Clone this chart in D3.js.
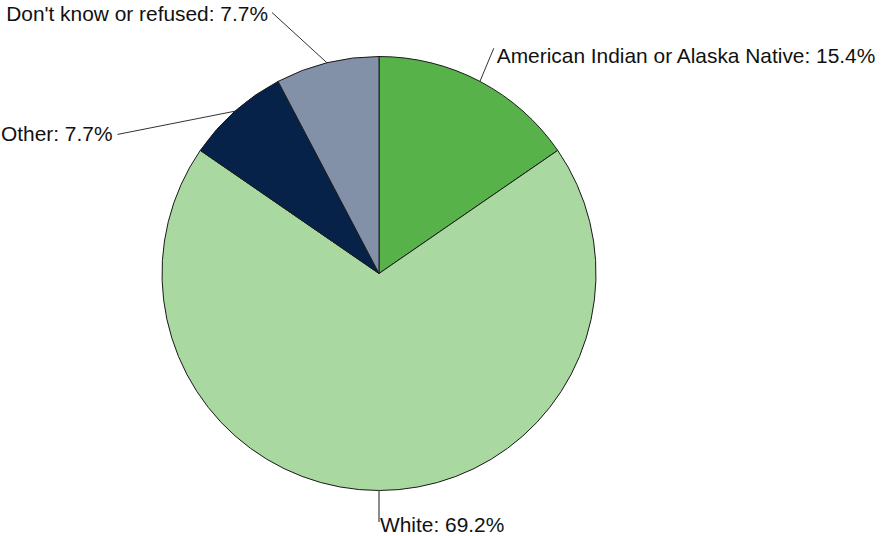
<!DOCTYPE html>
<html><head><meta charset="utf-8">
<script src="https://cdn.jsdelivr.net/npm/d3@7"></script>
<style>body{margin:0;background:#fff}svg{display:block}text{font-family:"Liberation Sans",Arial,Helvetica,sans-serif}</style>
</head><body>
<svg id="c" width="882" height="536"></svg>
<script>
const categories = ["American Indian or Alaska Native", "White", "Other", "Don't know or refused"];
const values = [15.4, 69.2, 7.7, 7.7];
const colors = ["#57b349", "#a9d8a1", "#062249", "#8291a8"];

// layout (label leader end points as angle in degrees / radius factor, text anchor)
const leaderEnd = [
  {ang: 27, rf: 1.165, anchor: "start", dx: 3, dy: 15},
  {ang: 180, rf: 1.145, anchor: "start", dx: 1, dy: 10},
  {ang: -62, rf: 1.365, anchor: "end", dx: -5, dy: 7},
  {ang: -22.3, rf: 1.30, anchor: "end", dx: -4, dy: 8}
];

const W = 882, H = 536, cx = 379, cy = 273.5, R = 217;
const svg = d3.select("#c");
const g = svg.append("g").attr("transform", `translate(${cx},${cy})`);
const data = categories.map((c, i) => ({cat: c, v: values[i], col: colors[i], i}));
const pie = d3.pie().value(d => d.v).sort(null);
const arcs = pie(data);
const arc = d3.arc().innerRadius(0).outerRadius(R);

g.selectAll("path.s").data(arcs).join("path").attr("class", "s")
  .attr("d", arc).attr("fill", d => d.data.col)
  .attr("stroke", "#1a1a1a").attr("stroke-width", 1);

const pol = (a, r) => [r * Math.sin(a), -r * Math.cos(a)];
arcs.forEach((d, i) => {
  const mid = (d.startAngle + d.endAngle) / 2;
  const p0 = pol(mid, R);
  const L = leaderEnd[i];
  const p1 = pol(L.ang * Math.PI / 180, R * L.rf);
  g.append("line").attr("x1", p0[0]).attr("y1", p0[1]).attr("x2", p1[0]).attr("y2", p1[1])
    .attr("stroke", i === 1 ? "#666" : "#333").attr("stroke-width", i === 1 ? 1.5 : 1);
  g.append("text").attr("x", p1[0] + L.dx).attr("y", p1[1] + L.dy)
    .attr("text-anchor", L.anchor).attr("font-size", 20.9).attr("fill", "#111")
    .text(`${d.data.cat}: ${d3.format(".1f")(d.data.v)}%`);
});
</script>
</body></html>
